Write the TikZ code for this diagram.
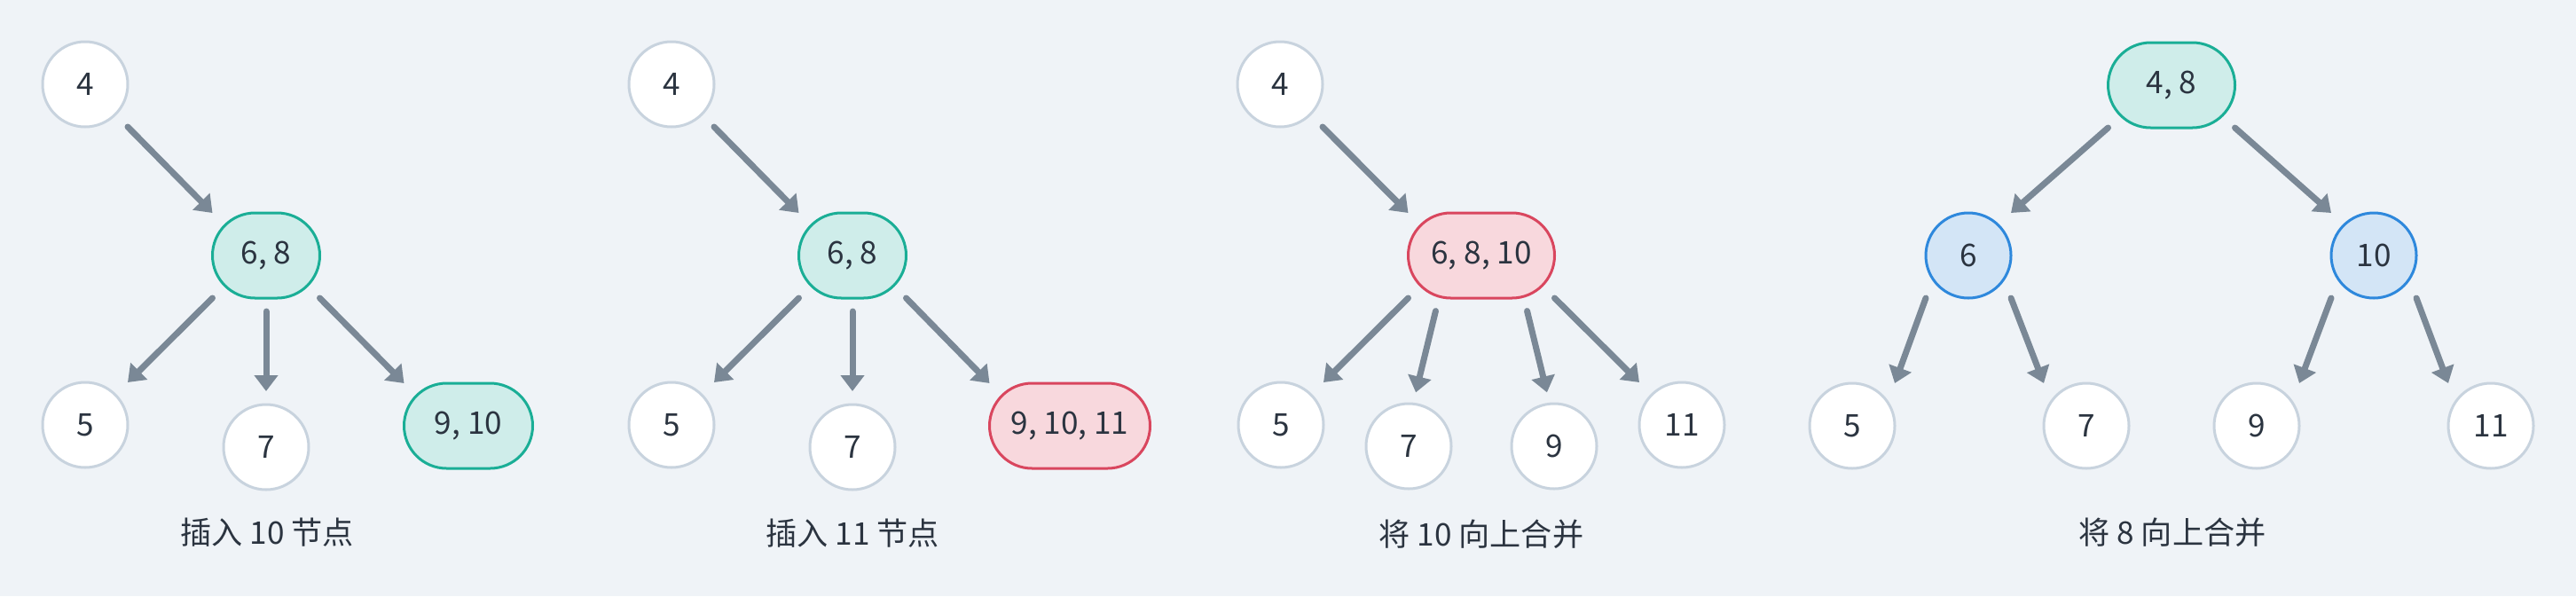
\documentclass[tikz,border=0pt]{standalone}
\usepackage{fontspec}
\setmainfont{Noto Sans CJK SC}
\usepackage{xcolor}
\usetikzlibrary{
arrows.meta,
positioning,
calc
}
\definecolor{btbg}{HTML}{EFF3F7}
\definecolor{bttext}{HTML}{2B3440}
\definecolor{btgray}{HTML}{C8D3DE}
\definecolor{btarrow}{HTML}{7A8896}
\definecolor{btteal}{HTML}{1AAE96}
\definecolor{bttealfill}{HTML}{CFEDEA}
\definecolor{btred}{HTML}{D9465E}
\definecolor{btredfill}{HTML}{F8D8DD}
\definecolor{btblue}{HTML}{2E88DC}
\definecolor{btbluefill}{HTML}{D3E5F6}

\begin{document}
\begin{tikzpicture}[
  key/.style={draw=btgray, fill=white, line width=0.3mm, rounded corners=4.8mm, minimum width=0.96cm, minimum height=0.96cm, inner sep=0pt, outer sep=0pt, text=bttext, font=\fontsize{10}{12}\selectfont},
  newkey/.style={key, draw=btteal, fill=bttealfill},
  fullkey/.style={key, draw=btred, fill=btredfill},
  splitkey/.style={key, draw=btblue, fill=btbluefill},
  edge/.style={-{Triangle[length=1.8mm, width=2.6mm]}, line width=0.7mm, btarrow, line cap=round},
  caption/.style={text=bttext, font=\fontsize{10}{12}\selectfont}
]
  \fill[btbg] (0,0) rectangle (29.04,-6.72);

  % Step 1: insert 10
  \node[key] (a4) at (0.96,-0.95) {4};
  \node[newkey, minimum width=1.21cm] (a68) at (3.00,-2.88) {6, 8};
  \node[key] (a5) at (0.96,-4.79) {5};
  \node[key] (a7) at (3.00,-5.04) {7};
  \node[newkey, minimum width=1.45cm] (a910) at (5.28,-4.80) {9, 10};
  \node[caption] (acap) at (3.01,-6.00) {插入 10 节点};

  \draw[edge] (a4.south east) -- (a68.north west);
  \draw[edge] (a68.south west) -- (a5.north east);
  \draw[edge, shorten <=1.5mm, shorten >=1.5mm] (a68) -- (a7);
  \draw[edge] (a68.south east) -- (a910.north west);

  % Step 2: insert 11
  \node[key] (b4) at (7.57,-0.95) {4};
  \node[newkey, minimum width=1.21cm] (b68) at (9.61,-2.88) {6, 8};
  \node[key] (b5) at (7.57,-4.79) {5};
  \node[key] (b7) at (9.61,-5.04) {7};
  \node[fullkey, minimum width=1.81cm] (b91011) at (12.06,-4.80) {9, 10, 11};
  \node[caption] (bcap) at (9.61,-6.01) {插入 11 节点};

  \draw[edge] (b4.south east) -- (b68.north west);
  \draw[edge] (b68.south west) -- (b5.north east);
  \draw[edge, shorten <=1.5mm, shorten >=1.5mm] (b68) -- (b7);
  \draw[edge] (b68.south east) -- (b91011.north west);

  % Step 3: push 10 up
  \node[key] (c4) at (14.43,-0.95) {4};
  \node[fullkey, minimum width=1.65cm] (c6810) at (16.70,-2.88) {6, 8, 10};
  \node[key] (c5) at (14.44,-4.79) {5};
  \node[key] (c7) at (15.88,-5.03) {7};
  \node[key] (c9) at (17.52,-5.03) {9};
  \node[key] (c11) at (18.96,-4.79) {11};
  \node[caption] (ccap) at (16.70,-6.02) {将 10 向上合并};

  \draw[edge] (c4.south east) -- (c6810.north west);
  \draw[edge] (c6810.south west) -- (c5.north east);
  \draw[edge, shorten <=1.5mm, shorten >=1.3mm] ([xshift=-4.8mm]c6810.south) -- ([xshift=0.5mm]c7.north);
  \draw[edge, shorten <=1.5mm, shorten >=1.3mm] ([xshift=4.8mm]c6810.south) -- ([xshift=-0.5mm]c9.north);
  \draw[edge] (c6810.south east) -- (c11.north west);

  % Step 4: push 8 up
  \node[newkey, minimum width=1.43cm] (d48) at (24.48,-0.96) {4, 8};
  \node[splitkey] (d6) at (22.19,-2.88) {6};
  \node[splitkey] (d10) at (26.76,-2.88) {10};
  \node[key] (d5) at (20.88,-4.80) {5};
  \node[key] (d7) at (23.52,-4.80) {7};
  \node[key] (d9) at (25.44,-4.80) {9};
  \node[key] (d11) at (28.08,-4.80) {11};
  \node[caption] (dcap) at (24.49,-6.00) {将 8 向上合并};

  \draw[edge] (d48.south west) -- (d6.north east);
  \draw[edge] (d48.south east) -- (d10.north west);
  \draw[edge] (d6.south west) -- (d5.north east);
  \draw[edge] (d6.south east) -- (d7.north west);
  \draw[edge] (d10.south west) -- (d9.north east);
  \draw[edge] (d10.south east) -- (d11.north west);

\end{tikzpicture}
\end{document}
